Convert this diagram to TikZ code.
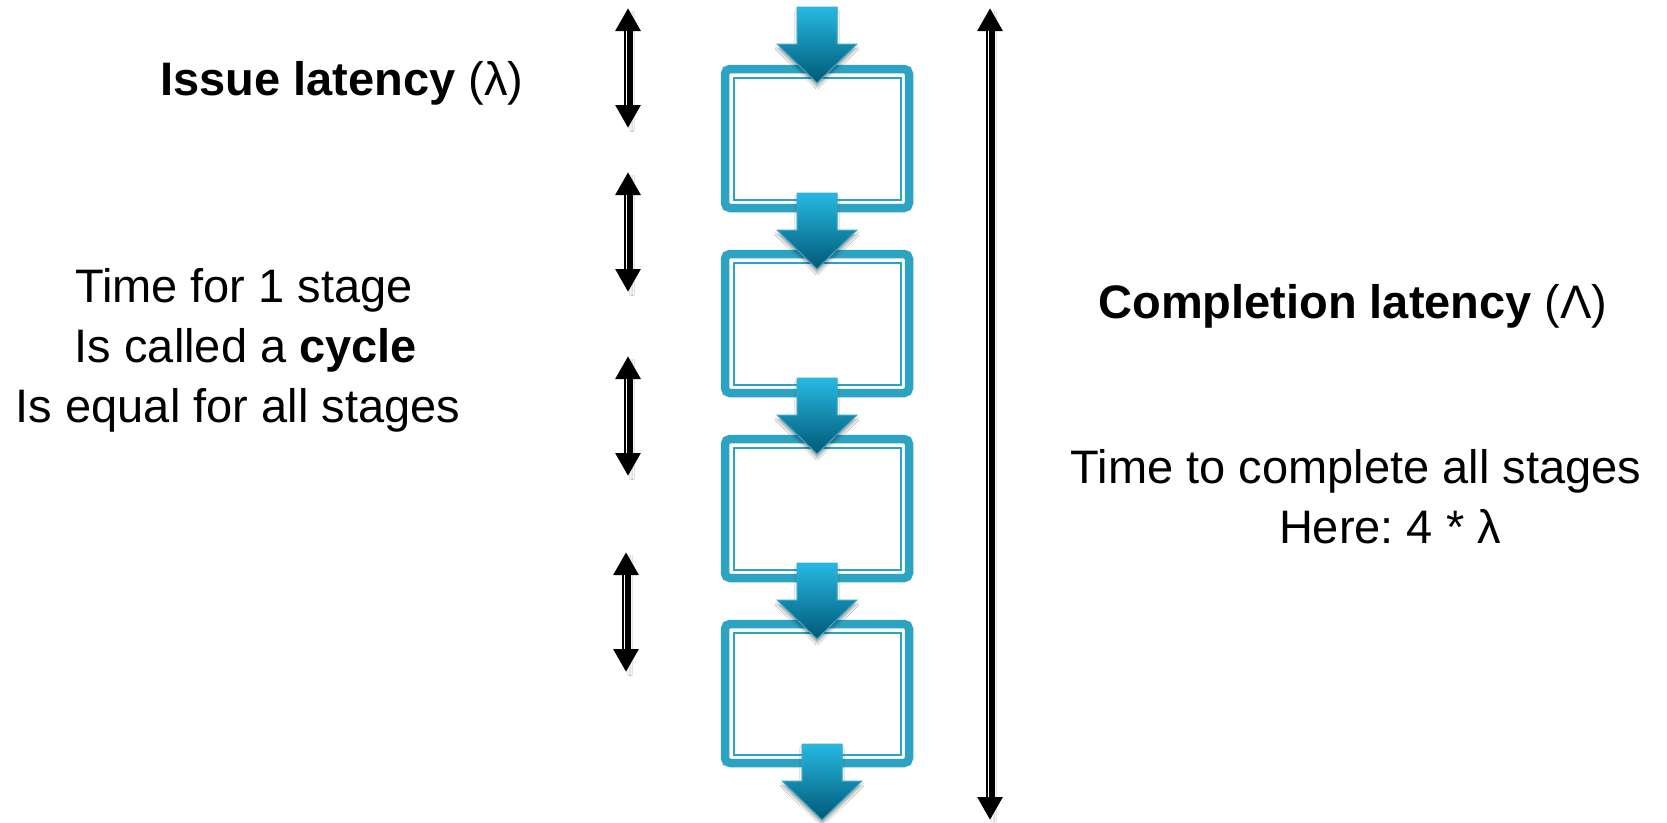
\documentclass[tikz,border=0pt]{standalone}
\usepackage{fontspec}
\setmainfont{Liberation Sans}
\usetikzlibrary{arrows.meta,shadows.blur}
\definecolor{stagecol}{RGB}{44,163,194}
\definecolor{arrtop}{RGB}{38,185,226}
\definecolor{arrbot}{RGB}{0,88,118}
\definecolor{arredge}{RGB}{60,172,204}
\tikzset{
  stage/.style={draw=stagecol, line width=8.5pt, rounded corners=5pt, minimum width=184pt, minimum height=139pt, inner sep=0pt, outer sep=0pt},
  stageinner/.style={draw=stagecol, line width=2pt},
  lbl/.style={font=\fontsize{47}{56}\selectfont\frenchspacing, inner sep=0pt, anchor=base},
  darrow/.style={line width=9pt, black, {Triangle[width=24pt,length=23pt]}-{Triangle[width=24pt,length=23pt]}},
  dgap/.style={white, line width=1.5pt, shorten >=23pt, shorten <=23pt},
  blockarrow/.pic={
    \shade[top color=arrtop, bottom color=arrbot, draw=arredge, line width=1pt,
      blur shadow={shadow xshift=0pt, shadow yshift=-4pt, shadow opacity=35, shadow blur steps=8}]
      (-20,0) -- (20,0) -- (20,-37) -- (40,-37) -- (0,-76) -- (-40,-37) -- (-20,-37) -- cycle;
  }
}
\begin{document}
\begin{tikzpicture}[x=1pt,y=1pt]
\useasboundingbox (0,0) rectangle (1667,-822);
\fill[white] (0,0) rectangle (1667,-822);

% stages (anchors sit on the stroke centre line, outer sep=0)
\foreach \i/\t in {1/65,2/250,3/435,4/620}{
  \node[stage] (s\i) at (817,-\t-73.5) {};
  \draw[stageinner] ([shift={(8.5,-8.5)}]s\i.north west) rectangle ([shift={(-8.5,8.5)}]s\i.south east);
}

% block arrows
\pic at (817,-7) {blockarrow};
\pic at (817,-193) {blockarrow};
\pic at (817,-378) {blockarrow};
\pic at (817,-563) {blockarrow};
\pic at (822,-744) {blockarrow};

% issue latency arrows
\coordinate (i1t) at (628,-8);   \coordinate (i1b) at (628,-128);
\coordinate (i2t) at (628,-172); \coordinate (i2b) at (628,-292);
\coordinate (i3t) at (628,-356); \coordinate (i3b) at (628,-476);
\coordinate (i4t) at (626,-552); \coordinate (i4b) at (626,-672);
\coordinate (ct) at (990,-8);    \coordinate (cb) at (990,-820);
\foreach \n in {i1,i2,i3,i4,c}{
  \draw[darrow, blur shadow={shadow xshift=4pt, shadow yshift=-3pt, shadow opacity=25}] (\n t) -- (\n b);
  \draw[dgap] ([xshift=-1.5pt]\n t) -- ([xshift=-1.5pt]\n b);
}

% texts
\node[lbl] (issue) at (342,-95) {\textbf{Issue latency} (λ)};
\node[lbl] (l1) at (244,-302) {Time for 1 stage};
\node[lbl] (l2) at (246,-362) {Is called a \textbf{cycle}};
\node[lbl] (l3) at (238,-422) {Is equal for all stages};
\node[lbl] (comp) at (1353,-318) {\textbf{Completion latency} (Λ)};
\node[lbl] (t1) at (1356,-483) {Time to complete all stages};
\node[lbl] (t2) at (1390,-543) {Here: 4 * λ};
\end{tikzpicture}
\end{document}
